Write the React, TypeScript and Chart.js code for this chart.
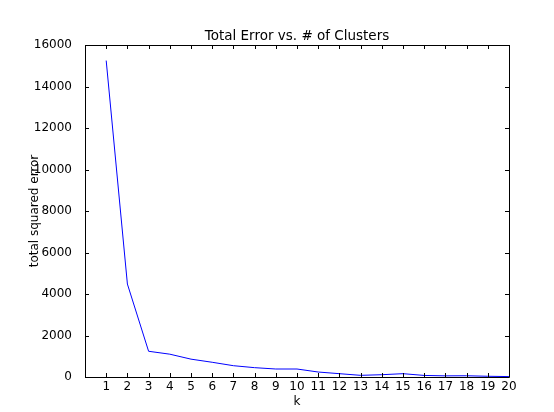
import React, { useEffect, useRef } from "react";
import { Chart, registerables } from "chart.js";

Chart.register(...registerables);

const kValues = [1, 2, 3, 4, 5, 6, 7, 8, 9, 10, 11, 12, 13, 14, 15, 16, 17, 18, 19, 20];
const totalError = [15250, 4480, 1240, 1100, 860, 710, 545, 450, 385, 385, 240, 160, 80, 110, 160, 75, 55, 60, 35, 20];
const xTickValues = [1, 2, 3, 4, 5, 6, 7, 8, 9, 10, 11, 12, 13, 14, 15, 16, 17, 18, 19, 20];
const yTickValues = [0, 2000, 4000, 6000, 8000, 10000, 12000, 14000, 16000];

const FONT = "'DejaVu Sans', sans-serif";

const framePlugin = {
  id: "mplFrame",
  afterDraw(chart: any) {
    const { ctx, chartArea } = chart;
    const { left, right, top, bottom } = chartArea;
    const xs = chart.scales.x;
    const ys = chart.scales.y;
    ctx.save();
    ctx.strokeStyle = "#000";
    ctx.lineWidth = 1;
    ctx.beginPath();
    ctx.rect(Math.round(left) + 0.5, Math.round(top) + 0.5, Math.round(right - left), Math.round(bottom - top));
    ctx.stroke();
    const tl = 4;
    ctx.beginPath();
    for (const v of xTickValues) {
      const px = Math.round(xs.getPixelForValue(v)) + 0.5;
      ctx.moveTo(px, bottom);
      ctx.lineTo(px, bottom - tl);
      ctx.moveTo(px, top);
      ctx.lineTo(px, top + tl);
    }
    for (const v of yTickValues) {
      const py = Math.round(ys.getPixelForValue(v)) + 0.5;
      ctx.moveTo(left, py);
      ctx.lineTo(left + tl, py);
      ctx.moveTo(right, py);
      ctx.lineTo(right - tl, py);
    }
    ctx.stroke();
    ctx.restore();
  },
};

export default function App() {
  const ref = useRef<HTMLCanvasElement>(null);
  useEffect(() => {
    if (!ref.current) return;
    const chart = new Chart(ref.current, {
      type: "line",
      data: {
        datasets: [
          {
            data: kValues.map((k, i) => ({ x: k, y: totalError[i] })),
            borderColor: "rgb(0,0,255)",
            borderWidth: 1,
            pointRadius: 0,
            fill: false,
            tension: 0,
          },
        ],
      },
      options: {
        responsive: false,
        animation: false,
        events: [],
        layout: { padding: { left: 0, right: 45, top: 0, bottom: 0 } },
        plugins: {
          legend: { display: false },
          tooltip: { enabled: false },
          title: {
            display: true,
            fullSize: false,
            text: "Total Error vs. # of Clusters",
            color: "#000",
            font: { family: FONT, size: 13.5, weight: "normal" },
            padding: { top: 28, bottom: 0.8 },
          },
        },
        scales: {
          x: {
            type: "linear",
            min: 0,
            max: 20,
            grid: { display: false },
            border: { display: false },
            afterBuildTicks: (scale: any) => {
              scale.ticks = xTickValues.map((v) => ({ value: v }));
            },
            afterFit: (scale: any) => {
              scale.height = 35;
            },
            ticks: {
              color: "#000",
              font: { family: FONT, size: 12 },
              padding: -5,
              maxRotation: 0,
              autoSkip: false,
              callback: (v: any) => String(v),
            },
            title: {
              display: true,
              text: "k",
              color: "#000",
              font: { family: FONT, size: 12 },
              padding: { top: 0, bottom: 3 },
            },
          },
          y: {
            type: "linear",
            min: 0,
            max: 16000,
            grid: { display: false },
            border: { display: false },
            afterBuildTicks: (scale: any) => {
              scale.ticks = yTickValues.map((v) => ({ value: v }));
            },
            afterFit: (scale: any) => {
              scale.width = 85;
            },
            ticks: {
              color: "#000",
              font: { family: FONT, size: 12 },
              padding: 5,
              callback: (v: any) => String(v),
            },
            title: {
              display: true,
              text: "total squared error",
              color: "#000",
              font: { family: FONT, size: 12 },
              padding: { top: 28, bottom: 0 },
            },
          },
        },
      },
      plugins: [framePlugin],
    } as any);
    return () => chart.destroy();
  }, []);
  return (
    <div style={{ position: "fixed", left: 0, top: 0, width: 554, height: 412, background: "#fff" }}>
      <canvas ref={ref} width={554} height={412} style={{ display: "block" }} />
    </div>
  );
}
